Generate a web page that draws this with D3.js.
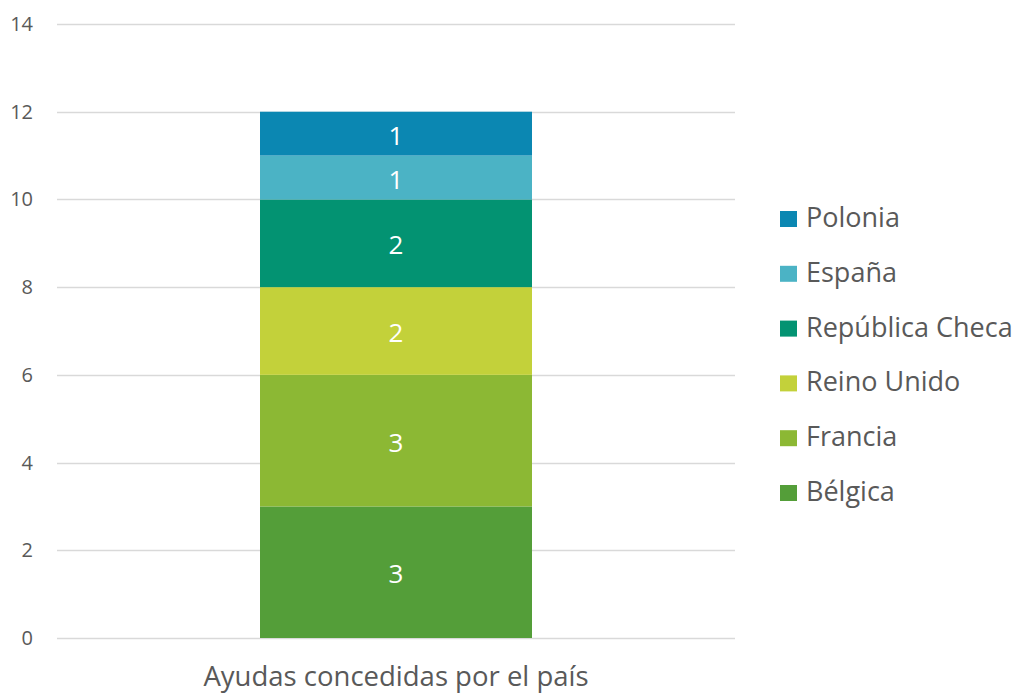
<!DOCTYPE html>
<html>
<head>
<meta charset="utf-8">
<script src="https://cdn.jsdelivr.net/npm/d3@7"></script>
<style>
  body { margin: 0; background: #fff; }
  svg text { font-family: "Open Sans", "Noto Sans", sans-serif; }
</style>
</head>
<body>
<div id="chart"></div>
<script>
// data
var category = "Ayudas concedidas por el país";
var series = ["Bélgica", "Francia", "Reino Unido", "República Checa", "España", "Polonia"];
var values = [3, 3, 2, 2, 1, 1];
var colors = ["#549E39", "#8CB834", "#C3D13A", "#039372", "#4BB3C5", "#0B87B2"];
var yTicks = [0, 2, 4, 6, 8, 10, 12, 14];

var width = 1020, height = 695;

var svg = d3.select("#chart").append("svg")
  .attr("width", width)
  .attr("height", height);

var y = d3.scaleLinear().domain([0, 14]).range([638, 24]);

// gridlines
svg.append("g").selectAll("line")
  .data(yTicks)
  .enter()
  .append("line")
  .attr("x1", 57)
  .attr("x2", 735)
  .attr("y1", function(d) { return Math.round(y(d)) + 0.5; })
  .attr("y2", function(d) { return Math.round(y(d)) + 0.5; })
  .attr("stroke", "#d9d9d9")
  .attr("stroke-width", 1.3);

// tick labels
svg.append("g").selectAll("text")
  .data(yTicks)
  .enter()
  .append("text")
  .attr("x", 33)
  .attr("y", function(d) { return y(d); })
  .attr("dy", "0.35em")
  .attr("text-anchor", "end")
  .attr("fill", "#595959")
  .style("font-size", "20px")
  .text(function(d) { return d; });

// stack
var stacked = [];
var acc = 0;
values.forEach(function(v, i) {
  stacked.push({ name: series[i], y0: acc, y1: acc + v, value: v, color: colors[i] });
  acc += v;
});

var barX = 260, barW = 272;

svg.append("g").selectAll("rect")
  .data(stacked)
  .enter()
  .append("rect")
  .attr("x", barX)
  .attr("width", barW)
  .attr("y", function(d) { return y(d.y1); })
  .attr("height", function(d) { return y(d.y0) - y(d.y1); })
  .attr("fill", function(d) { return d.color; });

svg.append("g").selectAll("text")
  .data(stacked)
  .enter()
  .append("text")
  .attr("x", barX + barW / 2)
  .attr("y", function(d) { return (y(d.y0) + y(d.y1)) / 2 + 2; })
  .attr("dy", "0.35em")
  .attr("text-anchor", "middle")
  .attr("fill", "#ffffff")
  .style("font-size", "26px")
  .text(function(d) { return d.value; });

// category label
svg.append("text")
  .attr("x", barX + barW / 2)
  .attr("y", 686)
  .attr("text-anchor", "middle")
  .attr("fill", "#595959")
  .style("font-size", "27.5px")
  .text(category);

// legend (top entry is the last series)
var legend = svg.append("g").selectAll("g")
  .data(stacked.slice().reverse())
  .enter()
  .append("g")
  .attr("transform", function(d, i) { return "translate(780," + (227 + i * 54.8) + ")"; });

legend.append("rect")
  .attr("x", 0)
  .attr("y", -16)
  .attr("width", 17)
  .attr("height", 16)
  .attr("fill", function(d) { return d.color; });

legend.append("text")
  .attr("x", 26)
  .attr("y", 0)
  .attr("fill", "#595959")
  .style("font-size", "27px")
  .text(function(d) { return d.name; });
</script>
</body>
</html>
